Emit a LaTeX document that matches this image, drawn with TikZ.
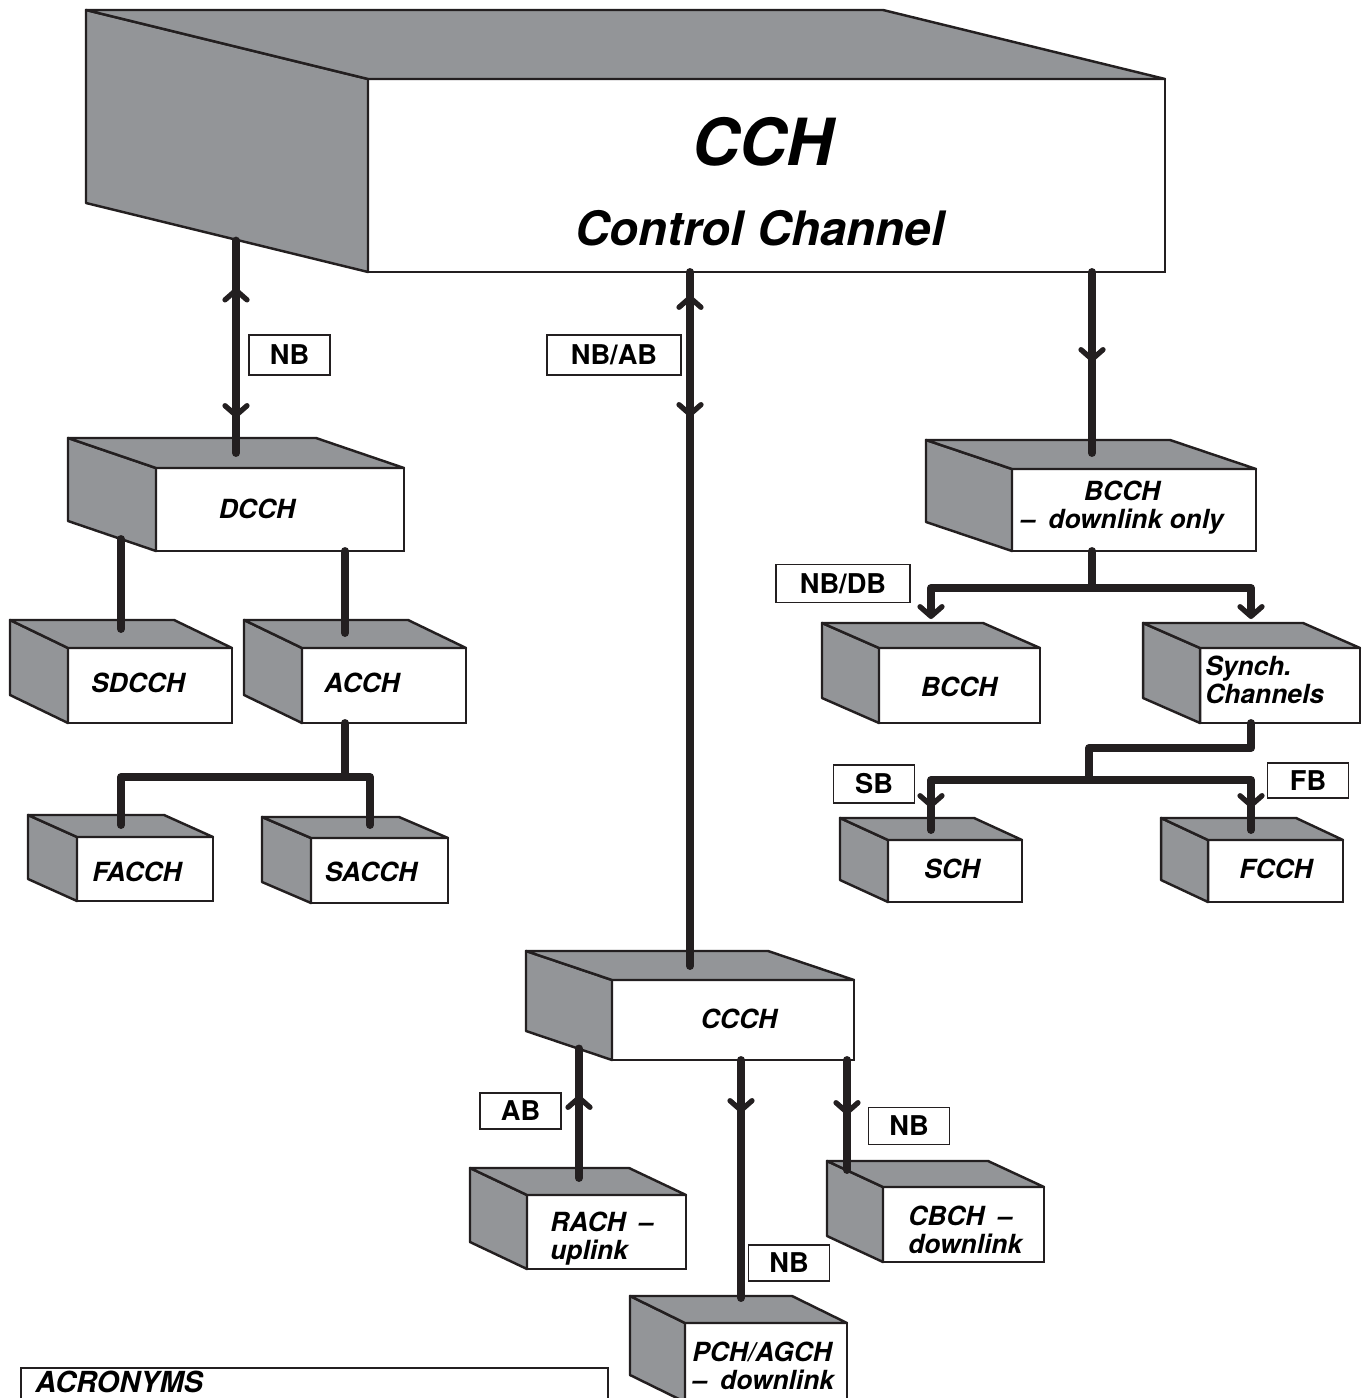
\documentclass[tikz,border=0pt]{standalone}
\usepackage{fontspec}
\setmainfont{TeX Gyre Heros}
\usetikzlibrary{arrows.meta}
\usetikzlibrary{decorations.markings}
\definecolor{chgray}{HTML}{939598}
\definecolor{chline}{HTML}{231F20}
\newcommand{\pxu}{0.02cm}
\newcommand{\boxfont}{\bfseries\itshape\fontsize{15}{16}\selectfont}
\newcommand{\tagfont}{\bfseries\fontsize{15.5}{18}\selectfont}
\newcommand{\gap}{\hspace{0.5em}}
% front face node plus the two grey faces behind it
\newcommand{\chbox}[7]{
  \node[front, anchor=north west, minimum width=#4*\pxu,
    minimum height=#5*\pxu] (#1) at (#2,#3) {};
  \draw[side] (#1.north west) -- ++(-#6,-#7) -- ++(0,#5)
    -- (#1.south west) -- cycle;
  \draw[side] (#1.north west) -- ++(-#6,-#7) -- ++(#4,0)
    -- (#1.north east) -- cycle;
}
\tikzset{
  front/.style={draw=chline, fill=white, line width=1.4pt,
    inner sep=0pt, outer sep=0pt},
  side/.style={draw=chline, fill=chgray, line width=1.4pt,
    line join=round},
  boxtext/.style={font=\boxfont, inner sep=0pt},
  tag/.style={draw=chline, fill=white, line width=1.1pt,
    inner sep=0pt, minimum height=0.76cm, font=\tagfont},
  shorttag/.style={tag, minimum width=1.62cm},
  longtag/.style={tag, minimum width=2.68cm},
  link/.style={draw=chline, line width=4.5pt, line cap=round,
    line join=round},
  barb/.tip={Straight Barb[length=5.5pt, width=12.5pt, line width=3pt, round]},
  barbat/.style={postaction={decorate, decoration={markings,
    mark=at position #1 with {\arrow{barb}}}}},
  barbbackat/.style={postaction={decorate, decoration={markings,
    mark=at position #1 with {\arrowreversed{barb}}}}}
}
\begin{document}
\begin{tikzpicture}[x=0.02cm, y=-0.02cm]
  \useasboundingbox (0,0) rectangle (1368,1398);
  % control channel
  \chbox{cch}{368}{79}{797}{193}{282}{69}
  \node[font=\bfseries\itshape\fontsize{37}{40}\selectfont] (cch-name)
    at (763,142) {CCH};
  \node[font=\bfseries\itshape\fontsize{27}{30}\selectfont] (cch-long)
    at (760,228) {Control Channel};
  % dedicated part
  \chbox{dcch}{156}{468}{248}{83}{88}{30}
  \chbox{sdcch}{68}{648}{164}{75}{58}{28}
  \chbox{acch}{302}{648}{164}{75}{58}{28}
  \chbox{facch}{77}{837}{136}{64}{49}{22}
  \chbox{sacch}{311}{838}{137}{65}{49}{21}
  \node[boxtext] (dcch-t) at (257,509) {DCCH};
  \node[boxtext] (sdcch-t) at (138,683) {SDCCH};
  \node[boxtext] (acch-t) at (362,683) {ACCH};
  \node[boxtext] (facch-t) at (137,872) {FACCH};
  \node[boxtext] (sacch-t) at (371,872) {SACCH};
  % broadcast part
  \chbox{bcch}{1012}{469}{244}{82}{86}{29}
  \chbox{bcchsub}{879}{648}{161}{75}{57}{25}
  \chbox{synch}{1200}{648}{160}{75}{57}{25}
  \chbox{sch}{888}{840}{134}{62}{48}{22}
  \chbox{fcch}{1208}{840}{135}{62}{47}{22}
  \node[boxtext, align=center] (bcch-t) at (1122,508) {BCCH\\–\gap downlink only};
  \node[boxtext] (bcchsub-t) at (959,687) {BCCH};
  \node[boxtext, align=left, anchor=west] (synch-t) at (1205,680) {Synch.\\Channels};
  \node[boxtext] (sch-t) at (952,869) {SCH};
  \node[boxtext] (fcch-t) at (1276,869) {FCCH};
  % common part
  \chbox{ccch}{612}{980}{242}{80}{86}{29}
  \chbox{rach}{527}{1195}{159}{74}{57}{27}
  \chbox{cbch}{883}{1187}{161}{75}{56}{26}
  \chbox{pch}{685}{1323}{162}{79}{55}{27}
  \node[boxtext] (ccch-t) at (739,1019) {CCCH};
  \node[boxtext, align=left, anchor=west] (rach-t) at (550,1239) {RACH\gap –\\uplink};
  \node[boxtext, align=left, anchor=west] (cbch-t) at (908,1230) {CBCH\gap –\\downlink};
  \node[boxtext, align=left, anchor=west] (pch-t) at (692,1366) {PCH/AGCH\\–\gap downlink};
  % ports
  \coordinate (cch-out) at (236,240.6);
  \coordinate (dcch-in) at (236,453);
  \coordinate (ccch-in) at (690,966);
  \coordinate (bcch-in) at (1092,453);
  \coordinate (dcch-out) at (121,539);
  \coordinate (sdcch-in) at (121,629);
  \coordinate (acch-in) at (345,633);
  \coordinate (acch-fork) at (345,777);
  \coordinate (facch-in) at (121,825);
  \coordinate (sacch-in) at (370,825);
  \coordinate (bcch-fork) at (1092,588);
  \coordinate (bcchsub-in) at (931,619);
  \coordinate (synch-in) at (1251,619);
  \coordinate (synch-bend) at (1089,748);
  \coordinate (synch-fork) at (1089,780);
  \coordinate (sch-in) at (931,830);
  \coordinate (fcch-in) at (1251,830);
  \coordinate (rach-out) at (579,1178);
  \coordinate (ccch-out) at (579,1048.5);
  \coordinate (pch-in) at (741,1298);
  \coordinate (cbch-in) at (847,1170);
  % links
  \draw[link, barbbackat=0.94cm, barbat=-0.7cm] (cch-out) -- (dcch-in);
  \draw[link, barbbackat=0.46cm, barbat=2.9cm] (cch.south -| ccch-in) -- (ccch-in);
  \draw[link, barbat=1.8cm] (cch.south -| bcch-in) -- (bcch-in);
  \draw[link] (dcch-out) -- (sdcch-in);
  \draw[link] (dcch.south -| acch-in) -- (acch-in);
  \draw[link] (acch.south -| acch-fork) -- (acch-fork);
  \draw[link] (facch-in) |- (acch-fork) -| (sacch-in);
  \draw[link] (bcch.south -| bcch-fork) -- (bcch-fork);
  \draw[link, -{barb}] (bcch-fork) -| (bcchsub-in);
  \draw[link, -{barb}] (bcch-fork) -| (synch-in);
  \draw[link] (synch.south -| synch-in) |- (synch-bend) -- (synch-fork);
  \draw[link, barbat=-0.44cm] (synch-fork) -| (sch-in);
  \draw[link, barbat=-0.44cm] (synch-fork) -| (fcch-in);
  \draw[link, barbat=1.66cm] (rach-out) -- (ccch-out);
  \draw[link, barbat=1.06cm] (ccch.south -| pch-in) -- (pch-in);
  \draw[link, barbat=1.1cm] (ccch.south -| cbch-in) -- (cbch-in);
  % burst tags
  \node[shorttag, minimum height=0.8cm] (nb-dcch) at (289.5,355) {NB};
  \node[longtag, minimum height=0.8cm] (nbab) at (614,355) {NB/AB};
  \node[longtag] (nbdb) at (843,583.5) {NB/DB};
  \node[shorttag] (sb) at (874,784) {SB};
  \node[shorttag, minimum height=0.7cm] (fb) at (1308,780.5) {FB};
  \node[shorttag, minimum height=0.72cm] (ab) at (520.5,1111) {AB};
  \node[shorttag, minimum height=0.74cm] (nb-cbch) at (909,1126) {NB};
  \node[shorttag, minimum height=0.72cm] (nb-pch) at (789,1263) {NB};
  % acronyms
  \node[draw=chline, line width=1.1pt, inner sep=0pt, anchor=north west,
    minimum width=11.74cm, minimum height=1.6cm] (acro) at (20,1367) {};
  \node[font=\bfseries\itshape\fontsize{16.5}{20}\selectfont, anchor=west,
    inner sep=0pt] (acro-title) at (35,1382) {ACRONYMS};
\end{tikzpicture}
\end{document}
